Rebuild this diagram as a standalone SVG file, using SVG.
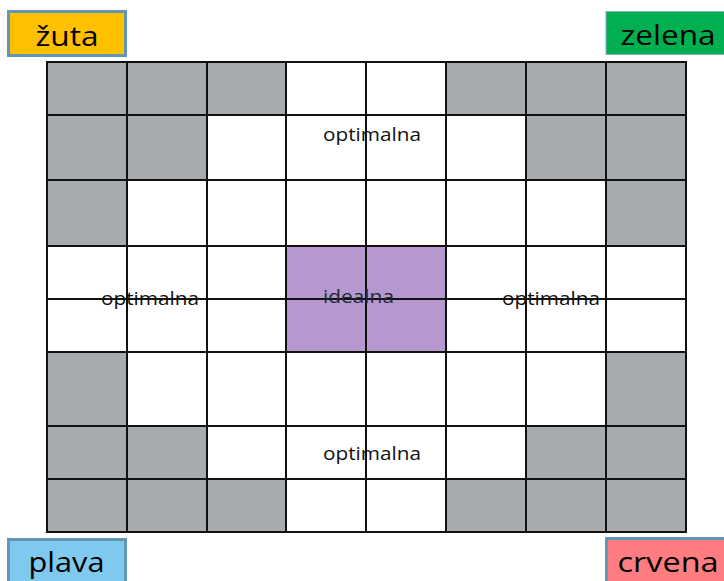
<svg xmlns="http://www.w3.org/2000/svg" width="724" height="581" viewBox="0 0 724 581">
  <style>
    .gray { fill: #A7ABAE; }
    .ideal { fill: #B598CF; }
    .grid line { stroke: #111; stroke-width: 2; }
    .lbl { font-family: "Open Sans", "Noto Sans", sans-serif; font-size: 28px; fill: #000; }
    .small { font-family: "Open Sans", "Noto Sans", sans-serif; font-size: 19px; fill: #111; }
    .thick { stroke: #6097B4; stroke-width: 3; }
  </style>
  <rect width="724" height="581" fill="#fff"/>

  <g id="cells">
    <rect class="gray" x="47" y="62" width="160" height="53"/>
    <rect class="gray" x="207" y="62" width="79" height="53"/>
    <rect class="gray" x="446" y="62" width="240" height="53"/>
    <rect class="gray" x="47" y="115" width="160" height="65"/>
    <rect class="gray" x="526" y="115" width="160" height="65"/>
    <rect class="gray" x="47" y="180" width="80" height="66"/>
    <rect class="gray" x="606" y="180" width="80" height="66"/>
    <rect class="ideal" x="286" y="246" width="160" height="106"/>
    <rect class="gray" x="47" y="352" width="80" height="74"/>
    <rect class="gray" x="606" y="352" width="80" height="74"/>
    <rect class="gray" x="47" y="426" width="160" height="53"/>
    <rect class="gray" x="526" y="426" width="160" height="53"/>
    <rect class="gray" x="47" y="479" width="239" height="53"/>
    <rect class="gray" x="446" y="479" width="240" height="53"/>
  </g>

  <g id="grid-lines" class="grid">
    <line x1="47" y1="61" x2="47" y2="533"/>
    <line x1="127" y1="61" x2="127" y2="533"/>
    <line x1="207" y1="61" x2="207" y2="533"/>
    <line x1="286" y1="61" x2="286" y2="533"/>
    <line x1="366" y1="61" x2="366" y2="533"/>
    <line x1="446" y1="61" x2="446" y2="533"/>
    <line x1="526" y1="61" x2="526" y2="533"/>
    <line x1="606" y1="61" x2="606" y2="533"/>
    <line x1="686" y1="61" x2="686" y2="533"/>
    <line x1="46" y1="62" x2="687" y2="62"/>
    <line x1="46" y1="115" x2="687" y2="115"/>
    <line x1="46" y1="180" x2="687" y2="180"/>
    <line x1="46" y1="246" x2="687" y2="246"/>
    <line x1="46" y1="299" x2="687" y2="299"/>
    <line x1="46" y1="352" x2="687" y2="352"/>
    <line x1="46" y1="426" x2="687" y2="426"/>
    <line x1="46" y1="479" x2="687" y2="479"/>
    <line x1="46" y1="532" x2="687" y2="532"/>
  </g>

  <g id="zone-labels">
    <text class="small" x="323" y="141" textLength="98" lengthAdjust="spacingAndGlyphs">optimalna</text>
    <text class="small" x="101" y="305" textLength="98" lengthAdjust="spacingAndGlyphs">optimalna</text>
    <text class="small" x="502" y="305" textLength="98" lengthAdjust="spacingAndGlyphs">optimalna</text>
    <text class="small" x="323" y="460" textLength="98" lengthAdjust="spacingAndGlyphs">optimalna</text>
    <text class="small" x="323" y="303" textLength="71" lengthAdjust="spacingAndGlyphs" style="fill:#262636">idealna</text>
  </g>

  <g id="zuta">
    <rect class="thick" x="8.5" y="11.5" width="117" height="44" fill="#FFC000"/>
    <text class="lbl" x="35.5" y="46" textLength="63" lengthAdjust="spacingAndGlyphs">žuta</text>
  </g>
  <g id="zelena">
    <rect x="606" y="11.5" width="130" height="43" fill="#00B050" stroke="#8FAACB" stroke-width="1"/>
    <text class="lbl" x="620.5" y="45" textLength="95" lengthAdjust="spacingAndGlyphs">zelena</text>
  </g>
  <g id="plava">
    <rect class="thick" x="8.5" y="539.5" width="117" height="60" fill="#7FC9EE"/>
    <text class="lbl" x="28.5" y="572" textLength="76" lengthAdjust="spacingAndGlyphs">plava</text>
  </g>
  <g id="crvena">
    <rect class="thick" x="606.5" y="538.5" width="130" height="60" fill="#FF7C80"/>
    <text class="lbl" x="617.5" y="572" textLength="101" lengthAdjust="spacingAndGlyphs">crvena</text>
  </g>
</svg>
